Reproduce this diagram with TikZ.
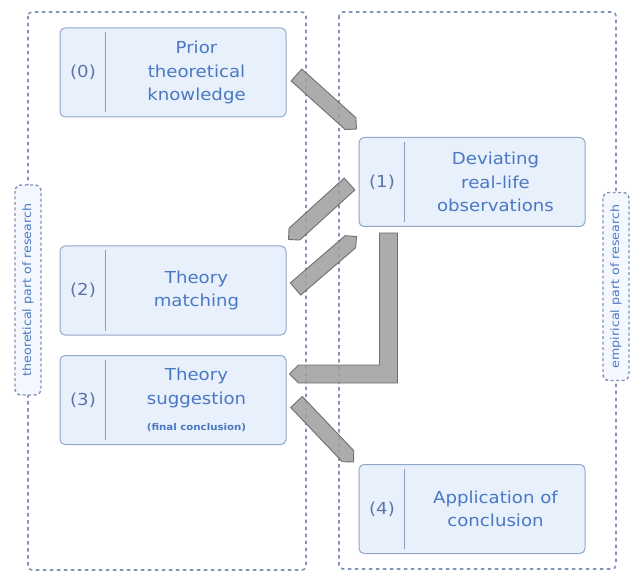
\documentclass[tikz,border=0pt]{standalone}
\usepackage{fontspec}
\setmainfont{DejaVu Sans}[FakeStretch=1.1]
\usetikzlibrary{calc}
\definecolor{boxfill}{HTML}{E8F0FC}
\definecolor{boxdraw}{HTML}{93A7C8}
\definecolor{textblue}{HTML}{4A78C2}
\definecolor{numcol}{HTML}{5A76A8}
\definecolor{divcol}{HTML}{8B9DC3}
\definecolor{dashcol}{HTML}{8194B5}
\definecolor{labelfill}{HTML}{F4F8FE}
\definecolor{arrowfill}{HTML}{A0A0A0}
\definecolor{arrowdraw}{HTML}{6F6F6F}
\tikzset{
  stagebox/.style={draw=boxdraw, fill=boxfill, rounded corners=5pt, line width=1pt,
    minimum width=226pt, minimum height=89pt, inner sep=0pt},
  stagetext/.style={text=textblue, align=center, font=\fontsize{16.5}{23.5}\selectfont, inner sep=0pt},
  stagenum/.style={text=numcol, font=\fontsize{16.5}{20}\selectfont, inner sep=0pt},
  smallnote/.style={text=textblue, font=\bfseries\fontsize{9.3}{10}\selectfont, inner sep=0pt},
  divider/.style={draw=divcol, line width=1pt},
  region/.style={draw=dashcol, dash pattern=on 3.5pt off 3.5pt, line width=1.6pt, rounded corners=4pt},
  partlabel/.style={draw=dashcol, dash pattern=on 3pt off 2.5pt, line width=1.4pt, fill=labelfill,
    rounded corners=6pt, rotate=90, minimum height=26pt, text=textblue,
    font=\fontsize{11.5}{12}\selectfont, inner sep=0pt},
  blk/.style={fill=arrowfill, draw=arrowdraw, line width=0.9pt, line join=miter, fill opacity=0.88},
}
\newcommand\blockarrow[2]{%
  \draw[blk] ($(#1)!8pt!90:(#2)$)
    -- ($($(#2)!8pt!(#1)$)!8pt!90:(#2)$)
    -- (#2)
    -- ($($(#2)!8pt!(#1)$)!8pt!-90:(#2)$)
    -- ($(#1)!8pt!-90:(#2)$) -- cycle;}
\begin{document}
\begin{tikzpicture}[x=1pt,y=-1pt]
\useasboundingbox (0,0) rectangle (632,572);
% regions
\draw[region] (28,12) rectangle (306,570);
\draw[region] (339,12) rectangle (616,569);
% boxes
\node[stagebox] (b0) at (173,72.5) {};
\node[stagebox] (b1) at (472,182) {};
\node[stagebox] (b2) at (173,290.5) {};
\node[stagebox] (b3) at (173,400) {};
\node[stagebox] (b4) at (472,509) {};
\foreach \b in {b0,b1,b2,b3,b4}{
  \draw[divider] ($(\b.north west)+(46,5)$) -- ($(\b.south west)+(46,-5)$);
}
\node[stagenum] (n0) at ($(b0.west)+(23.5,0)$) {(0)};
\node[stagenum] (n1) at ($(b1.west)+(23.5,0)$) {(1)};
\node[stagenum] (n2) at ($(b2.west)+(23.5,0)$) {(2)};
\node[stagenum] (n3) at ($(b3.west)+(23.5,0)$) {(3)};
\node[stagenum] (n4) at ($(b4.west)+(23.5,0)$) {(4)};
\node[stagetext] (t0) at ($(b0.center)+(23.5,0)$) {Prior\\theoretical\\knowledge};
\node[stagetext] (t1) at ($(b1.center)+(23.5,0)$) {Deviating\\real-life\\observations};
\node[stagetext] (t2) at ($(b2.center)+(23.5,0)$) {Theory\\matching};
\node[stagetext] (t3) at ($(b3.center)+(23.5,-12)$) {Theory\\suggestion};
\node[smallnote] (f3) at ($(b3.center)+(23.5,28)$) {(final conclusion)};
\node[stagetext] (t4) at ($(b4.center)+(23.5,0)$) {Application of\\conclusion};
% arrow end points
\coordinate (a0s) at ($(b0.east)+(10,2.5)$);
\coordinate (a0e) at ($(b1.north west)+(-2,-8)$);
\coordinate (a1s) at ($(b1.west)+(-9,2)$);
\coordinate (a1e) at ($(b2.north east)+(2,-6)$);
\coordinate (a2s) at ($(b2.east)+(9,-1.5)$);
\coordinate (a2e) at ($(b1.south west)+(-2,9.5)$);
\coordinate (a3s) at ($(b3.east)+(10,2)$);
\coordinate (a3e) at ($(b4.north west)+(-5,-2)$);
\coordinate (ls) at ($(b1.south west)+(30,6)$);
\coordinate (le) at ($(b3.east)+(3,-26)$);
\blockarrow{a0s}{a0e}
\blockarrow{a1s}{a1e}
\blockarrow{a2s}{a2e}
\blockarrow{a3s}{a3e}
\draw[blk] let \p1=(ls), \p2=(le) in
  (\x1-9pt,\y1) -- (\x1+9pt,\y1) -- (\x1+9pt,\y2-9pt) -- (\x2+9pt,\y2-9pt)
  -- (\x2,\y2) -- (\x2+9pt,\y2+9pt) -- (\x1-9pt,\y2+9pt) -- cycle;
% part labels
\node[partlabel, minimum width=210pt] (lt) at (28,290) {theoretical part of research};
\node[partlabel, minimum width=188pt] (lr) at (616,286.5) {empirical part of research};
\end{tikzpicture}
\end{document}
